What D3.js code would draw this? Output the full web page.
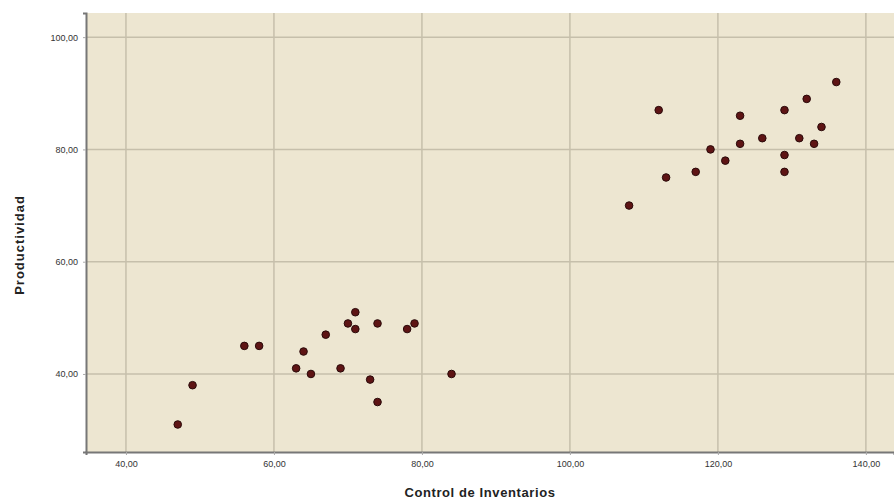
<!DOCTYPE html>
<html><head><meta charset="utf-8">
<script src="https://cdn.jsdelivr.net/npm/d3@7/dist/d3.min.js"></script>
<style>body{margin:0;background:#fff}svg{display:block}</style>
</head><body><svg id="c" width="894" height="502"></svg>
<script>
const controlInventarios = [47,49,56,58,63,64,65,67,69,70,71,71,73,74,74,78,79,84,
  108,112,113,117,119,121,123,123,126,129,129,129,131,132,133,134,136];
const productividad = [31,38,45,45,41,44,40,47,41,49,51,48,39,49,35,48,49,40,
  70,87,75,76,80,78,86,81,82,87,79,76,82,89,81,84,92];
const xTicks = [40,60,80,100,120,140];
const yTicks = [40,60,80,100];
const xTitle = "Control de Inventarios";
const yTitle = "Productividad";

const svg = d3.select("#c");
const L=86, R=894, T=13, B=452;
const x = d3.scaleLinear().domain([34.6,143.8]).range([L,R]);
const y = d3.scaleLinear().domain([26.1,104.3]).range([B,T]);
const fmt = v => d3.format(".2f")(v).replace(".",",");

svg.append("rect").attr("x",L).attr("y",T).attr("width",R-L).attr("height",B-T).attr("fill","#ede6d1");
svg.append("g").selectAll("line").data(xTicks).join("line")
  .attr("x1",d=>x(d)).attr("x2",d=>x(d)).attr("y1",T).attr("y2",B)
  .attr("stroke","#c6bfab").attr("stroke-width",1.5);
svg.append("g").selectAll("line").data(yTicks).join("line")
  .attr("y1",d=>y(d)).attr("y2",d=>y(d)).attr("x1",L).attr("x2",R)
  .attr("stroke","#c6bfab").attr("stroke-width",1.5);

const xa = svg.append("g").attr("transform",`translate(0,${B})`)
  .call(d3.axisBottom(x).tickValues(xTicks).tickFormat(fmt).tickSize(3).tickPadding(6));
const ya = svg.append("g").attr("transform",`translate(${L},0)`)
  .call(d3.axisLeft(y).tickValues(yTicks).tickFormat(fmt).tickSize(3).tickPadding(5));
[xa,ya].forEach(a=>{
  a.select(".domain").attr("stroke","#777").attr("stroke-width",2);
  a.selectAll(".tick line").attr("stroke","#aaa");
  a.selectAll("text").attr("font-family","Arial, Liberation Sans, sans-serif").attr("font-size",9).attr("fill","#333");
});

svg.append("g").selectAll("circle").data(controlInventarios.map((v,i)=>[v,productividad[i]])).join("circle")
  .attr("cx",d=>x(d[0])).attr("cy",d=>y(d[1])).attr("r",3.8)
  .attr("fill","#5e1414").attr("stroke","#2a0a0a").attr("stroke-width",1);

svg.append("text").attr("x",480).attr("y",497).attr("text-anchor","middle")
  .attr("font-family","Arial, Liberation Sans, sans-serif").attr("font-size",13).attr("font-weight","bold")
  .attr("letter-spacing",0.6).attr("fill","#222").text(xTitle);
svg.append("text").attr("transform","translate(24,245) rotate(-90)").attr("text-anchor","middle")
  .attr("font-family","Arial, Liberation Sans, sans-serif").attr("font-size",13).attr("font-weight","bold")
  .attr("letter-spacing",1).attr("fill","#222").text(yTitle);
</script></body></html>
